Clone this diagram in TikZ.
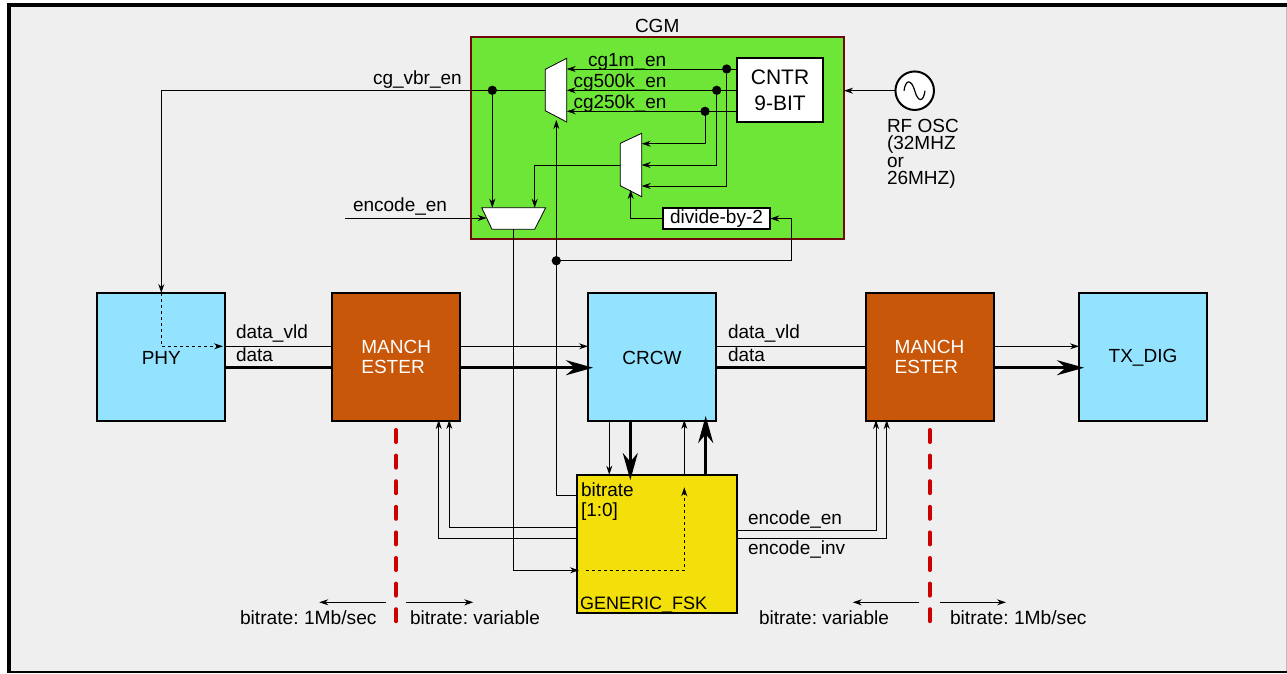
\documentclass[tikz,border=0pt]{standalone}
\usepackage{fontspec}
\setmainfont{Liberation Sans}
\usetikzlibrary{arrows.meta}
\definecolor{panelgray}{HTML}{EFEFEF}
\definecolor{cgmgreen}{HTML}{6DE637}
\definecolor{cgmred}{HTML}{6E0A0A}
\definecolor{blockblue}{HTML}{93E3FF}
\definecolor{blockorange}{HTML}{C9570A}
\definecolor{blockyellow}{HTML}{F3E00B}
\definecolor{cutred}{HTML}{CC0000}
\tikzset{
	every node/.style={font=\frenchspacing\fontsize{19}{20}\selectfont,inner sep=0pt,outer sep=0pt},
	block/.style={draw=black,line width=2pt,minimum width=128pt,minimum height=128pt,align=left,execute at begin node=\rule{0pt}{15.4pt}},
	smallblock/.style={draw=black,line width=2pt,fill=white},
	sigtext/.style={anchor=base west},
	wire/.style={line width=.9pt},
	sig/.style={wire,-{Stealth[length=9pt,width=6pt]}},
	bus/.style={line width=3pt},
	busarrow/.style={bus,-{Stealth[length=27pt,width=15pt]}},
	mux/.style={draw=black,line width=.8pt,fill=white},
	tap/.style={circle,fill=black,minimum size=9.3pt},
	cut/.style={cutred,line width=4pt,line cap=round,dash pattern=on 12pt off 13.6pt},
}
\begin{document}
\begin{tikzpicture}[x=1pt,y=-1pt]
	\useasboundingbox (0,0) rectangle (1287,673);
	\fill[white] (0,0) rectangle (1287,673);
	\fill[black] (7,3) rectangle (1287,673);
	\fill[panelgray] (11,7) rectangle (1286,671);
	\fill[gray!50] (1286,7) rectangle (1287,671);

	\node[draw=cgmred,line width=2pt,fill=cgmgreen,minimum width=373pt,minimum height=202pt] (cgm) at (657.5,138) {};
	\node[sigtext] (cgmlabel) at (635,32.7) {CGM};

	\node[block,fill=blockblue] (phy) at (161.3,357) {PHY};
	\node[block,fill=blockorange,text=white] (manchrx) at (396.2,357) {MANCH\\ESTER};
	\node[block,fill=blockblue] (crcw) at (652,357) {CRCW};
	\node[block,fill=blockorange,text=white] (manchtx) at (929.5,357) {MANCH\\ESTER};
	\node[block,fill=blockblue] (txdig) at (1143,357) {TX\_DIG};
	\node[draw=black,line width=2pt,fill=blockyellow,minimum width=160pt,minimum height=138pt] (fsk) at (657.3,543.7) {};

	\node[smallblock,font=\fontsize{21}{26}\selectfont,align=center,minimum width=85.5pt,minimum height=64pt,execute at begin node=\rule{0pt}{17pt}] (cntr) at (780,90.2) {CNTR\\9-BIT};
	\node[smallblock,minimum width=107.5pt,minimum height=21.6pt] (divider) at (716.5,218.5) {divide-by-2};
	\node[circle,draw=black,line width=2pt,fill=white,minimum size=38.5pt] (osc) at (914.7,90.7) {};
	\draw[line width=1.2pt] (904,90.7) .. controls (905.5,79) and (911.5,79) .. (914.7,90.7) .. controls (918,102.5) and (923.5,102.5) .. (925,90.7);

	\coordinate (muxa1) at (545.3,69.3);
	\coordinate (muxa2) at (566.7,58.3);
	\coordinate (muxa3) at (566.7,122);
	\coordinate (muxa4) at (545.3,110.7);
	\path[mux] (muxa1) -- (muxa2) -- (muxa3) -- (muxa4) -- cycle;
	\coordinate (muxb1) at (620.3,143.3);
	\coordinate (muxb2) at (641.7,133.3);
	\coordinate (muxb3) at (641.7,196.7);
	\coordinate (muxb4) at (620.3,185.7);
	\path[mux] (muxb1) -- (muxb2) -- (muxb3) -- (muxb4) -- cycle;
	\coordinate (muxc1) at (481.7,207.7);
	\coordinate (muxc2) at (545.7,207.7);
	\coordinate (muxc3) at (534.7,229.3);
	\coordinate (muxc4) at (492,229.3);
	\path[mux] (muxc1) -- (muxc2) -- (muxc3) -- (muxc4) -- cycle;

	\node[tap] (tapone) at (726.7,69) {};
	\node[tap] (tapfive) at (716.7,90.3) {};
	\node[tap] (tapqrt) at (705,111.3) {};
	\node[tap] (tapvbr) at (492.3,90.3) {};
	\node[tap] (tapdiv) at (556.3,260.7) {};

	\draw[sig] (cntr.west |- tapone) -- (muxa2 |- tapone);
	\draw[sig] (cntr.west |- tapfive) -- (muxa2 |- tapfive);
	\draw[sig] (cntr.west |- tapqrt) -- (muxa2 |- tapqrt);
	\draw[sig] (tapqrt) |- (641.7,143.7);
	\draw[sig] (tapfive) |- (641.7,165);
	\draw[sig] (tapone) |- (641.7,186);
	\draw[sig] (620.3,165) -| (534.7,207.7);
	\draw[sig] (tapvbr) -- (tapvbr |- muxc1);
	\draw[sig] (545.3,90.3) -- (tapvbr.center) -| (phy.north);
	\draw[sig] (divider.west) -| (630.7,190);
	\draw[sig] (tapdiv.center) -| (791,218.5) -- (divider.east);
	\draw[sig] (fsk.west |- 0,495.7) -| (556.3,120);
	\draw[sig] (osc.west) -- (cgm.east |- osc);
	\draw[sig] (345,218) -- (486.7,218);
	\draw[sig] (513.4,229.3) |- (579,570.3);

	\draw[wire,dashed,-{Stealth[length=9pt,width=6pt]}] (phy.north) |- (223,346.3);
	\draw[wire,dashed,-{Stealth[length=9pt,width=6pt]}] (586,570.3) -| (684.3,487.3);

	\draw[wire] (phy.east |- 0,346.3) -- (manchrx.west |- 0,346.3);
	\draw[sig] (manchrx.east |- 0,346.3) -- (crcw.west |- 0,346.3);
	\draw[wire] (crcw.east |- 0,346.3) -- (manchtx.west |- 0,346.3);
	\draw[sig] (manchtx.east |- 0,346.3) -- (txdig.west |- 0,346.3);
	\draw[bus] (phy.east |- 0,367.7) -- (manchrx.west |- 0,367.7);
	\draw[busarrow] (manchrx.east |- 0,367.7) -- (593,367.7);
	\draw[bus] (crcw.east |- 0,367.7) -- (manchtx.west |- 0,367.7);
	\draw[busarrow] (manchtx.east |- 0,367.7) -- (1084,367.7);

	\draw[sig] (609.3,421) -- (609.3,474.7);
	\draw[busarrow] (630.3,421) -- (630.3,480);
	\draw[sig] (684.3,474.7) -- (684.3,420);
	\draw[busarrow] (705.7,474.7) -- (705.7,416);

	\draw[sig] (fsk.west |- 0,527.7) -| (449.3,420);
	\draw[sig] (fsk.west |- 0,538.3) -| (438.7,420);
	\draw[sig] (fsk.east |- 0,530.3) -| (876,420);
	\draw[sig] (fsk.east |- 0,538.3) -| (886.7,420);

	\foreach \i in {396,929.7} {
		\draw[cut] (\i,430) -- (\i,626);
	}
	\draw[sig] (385.7,602.3) -- (319.3,602.3);
	\draw[sig] (406,602.3) -- (473.3,602.3);
	\draw[sig] (919.3,602.3) -- (852.7,602.3);
	\draw[sig] (940,602.3) -- (1006,602.3);

	\node[sigtext] (cgone) at (588,66.4) {cg1m\_en};
	\node[sigtext] (cgfive) at (573.5,87.4) {cg500k\_en};
	\node[sigtext] (cgqrt) at (573.5,108.4) {cg250k\_en};
	\node[sigtext] (cgvbr) at (373,84.4) {cg\_vbr\_en};
	\node[sigtext] (encodectl) at (353,211) {encode\_en};
	\node[sigtext] (vldrx) at (236,338.7) {data\_vld};
	\node[sigtext] (datarx) at (236,361) {data};
	\node[sigtext] (vldtx) at (728,338.7) {data\_vld};
	\node[sigtext] (datatx) at (728,361) {data};
	\node[sigtext] (encodeen) at (748,524) {encode\_en};
	\node[sigtext] (encodeinv) at (748,554) {encode\_inv};
	\node[sigtext] (bitratefsk) at (581,496) {bitrate};
	\node[sigtext] (bitratesel) at (581,516.7) {[1:0]};
	\node[sigtext,font=\fontsize{18}{20}\selectfont] (fskname) at (580,609.3) {GENERIC\_FSK};
	\node[sigtext,font=\frenchspacing\fontsize{19.2}{20}\selectfont] (rateone) at (240,624) {bitrate: 1Mb/sec};
	\node[sigtext] (ratetwo) at (410,624) {bitrate: variable};
	\node[sigtext] (ratethree) at (759,624) {bitrate: variable};
	\node[sigtext,font=\frenchspacing\fontsize{19.2}{20}\selectfont] (ratefour) at (950,624) {bitrate: 1Mb/sec};
	\node[anchor=north west,align=left,font=\fontsize{19}{17.5}\selectfont] (osclabel) at (887,119) {RF OSC\\(32MHZ\\or\\26MHZ)};
\end{tikzpicture}
\end{document}
